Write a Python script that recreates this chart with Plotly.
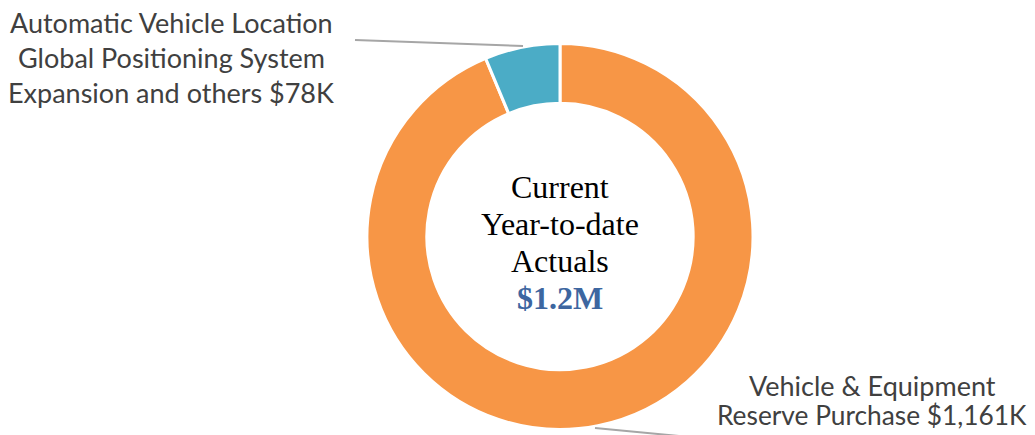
import plotly.graph_objects as go

categories = ["Vehicle & Equipment Reserve Purchase", "Automatic Vehicle Location Global Positioning System Expansion and others"]
values_k = [1161, 78]
colors = ["#F79646", "#4BACC6"]
T = "<span style='font-family:Lato'>t</span>"  # separate tspan: avoids the "ti" ligature
label_lines = [
    ["Vehicle & Equipment", "Reserve Purchase $1,161K"],
    ["Automatic Vehicle Loca" + T + "ion", "Global Posi" + T + "ioning System", "Expansion and others $78K"],
]
center_lines = ["Current", "Year-to-date", "Actuals"]
center_total = "$1.2M"

W, H = 1035, 435
cx, cy, r = 560, 236.5, 193

fig = go.Figure()
fig.add_trace(go.Pie(
    labels=categories, values=values_k, hole=0.69, sort=False,
    direction="clockwise", rotation=0,
    marker=dict(colors=colors, line=dict(color="white", width=3)),
    textinfo="none", hoverinfo="label+value", showlegend=False,
    domain=dict(x=[(cx - r) / W, (cx + r) / W], y=[(H - cy - r) / H, (H - cy + r) / H]),
))

def px(x, y):
    return x / W, (H - y) / H

ann = []
for i, t in enumerate(center_lines):
    x, y = px(560, 187 + i * 37)
    ann.append(dict(x=x, y=y, xref="paper", yref="paper", text=t, showarrow=False,
                    font=dict(family="Liberation Serif", size=32, color="#000000"),
                    xanchor="center", yanchor="middle"))
x, y = px(560, 298)
ann.append(dict(x=x, y=y, xref="paper", yref="paper", text="<b>" + center_total + "</b>", showarrow=False,
                font=dict(family="Liberation Serif", size=32, color="#3D66A0"),
                xanchor="center", yanchor="middle"))

for i, t in enumerate(label_lines[1]):
    x, y = px(171, 22 + i * 35)
    ann.append(dict(x=x, y=y, xref="paper", yref="paper", text=t, showarrow=False,
                    font=dict(family="Lato", size=27, color="#404040"),
                    xanchor="center", yanchor="middle"))
for i, (t, s) in enumerate(zip(label_lines[0], [27, 26.3])):
    x, y = px(872, 385 + i * 30)
    ann.append(dict(x=x, y=y, xref="paper", yref="paper", text=t, showarrow=False,
                    font=dict(family="Lato", size=s, color="#404040"),
                    xanchor="center", yanchor="middle"))

shapes = []
for (x0, y0, x1, y1) in [(523, 46, 355, 40), (595, 428, 700, 438)]:
    a0, b0 = px(x0, y0)
    a1, b1 = px(x1, y1)
    shapes.append(dict(type="line", xref="paper", yref="paper", x0=a0, y0=b0, x1=a1, y1=b1,
                       line=dict(color="#A6A6A6", width=2)))

fig.update_layout(width=W, height=H, margin=dict(l=0, r=0, t=0, b=0),
                  paper_bgcolor="white", plot_bgcolor="white",
                  annotations=ann, shapes=shapes)
fig.write_html("out.html", config={"displayModeBar": False},
               post_script="document.body.style.margin='0';")
